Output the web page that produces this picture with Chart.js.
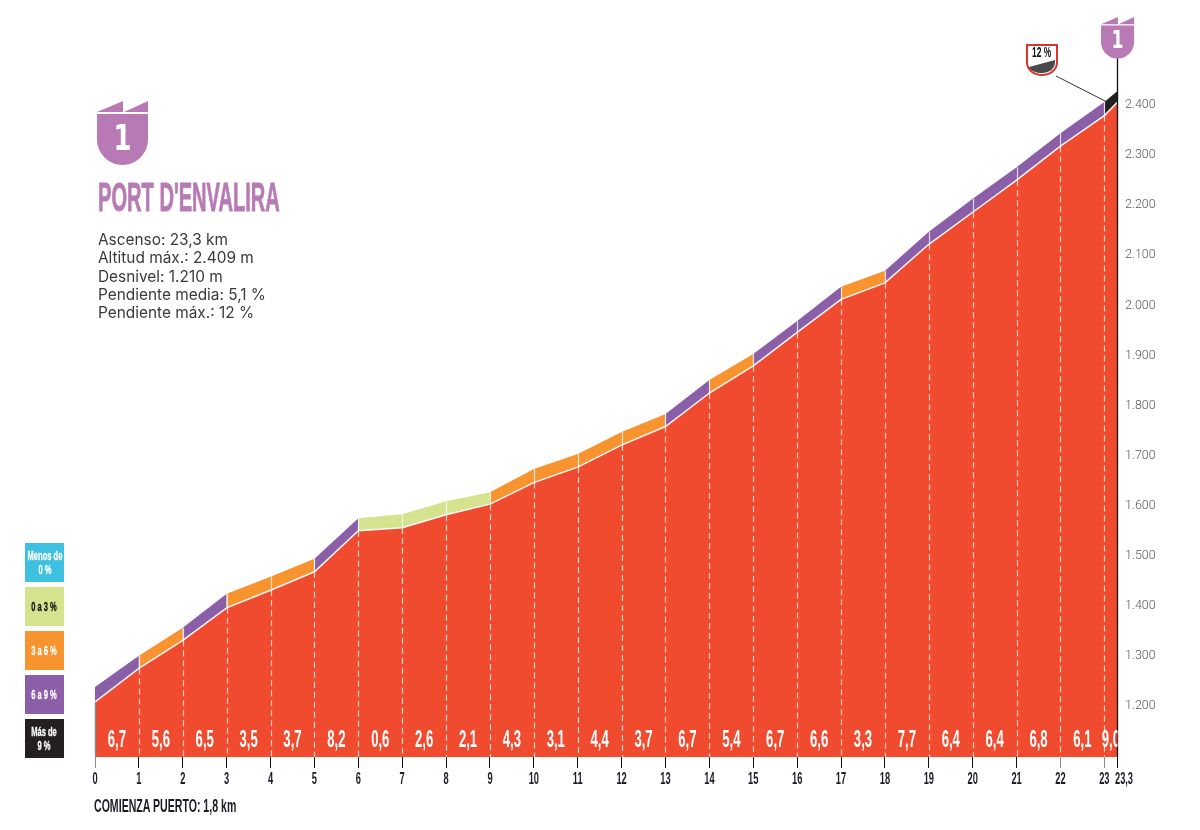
<!DOCTYPE html>
<html>
<head>
<meta charset="utf-8">
<title>Port d'Envalira</title>
<script src="https://cdn.jsdelivr.net/npm/chart.js@4"></script>
<style>
  body { margin: 0; background: #fff; }
  #wrap { position: relative; width: 1200px; height: 830px; overflow: hidden; }
  #canvas { position: absolute; left: 0; top: 0; }
  .abs { position: absolute; white-space: nowrap; }
  .cond { font-family: "Liberation Sans"; font-weight: bold; transform-origin: left top; }
  #titulo { left: 98px; top: 174px; font-size: 41px; line-height: 46px; color: #b77ab5; transform: scaleX(0.49); -webkit-text-stroke: 0.8px #b77ab5; }
  #stats { left: 98px; top: 231px; font-family: Inter; font-size: 15.4px; line-height: 18.3px; color: #3a3a3c; }
  #comienza { left: 94px; top: 795px; font-size: 19px; line-height: 22px; color: #1c1c28; transform: scaleX(0.557); }
  .caja { position: absolute; left: 25px; width: 39px; height: 39px; display: flex; align-items: center; justify-content: center; text-align: center; }
  .caja span { font-family: "Liberation Sans"; font-weight: bold; font-size: 13px; line-height: 14px; transform: scaleX(0.58); white-space: nowrap; -webkit-text-stroke: 0.3px currentColor; }
  .uno { text-align: center; font-family: "DejaVu Sans"; font-weight: bold; color: #fff; transform: scaleX(0.72); }
  svg { position: absolute; left: 0; top: 0; }
</style>
</head>
<body>
<div id="wrap">
  <canvas id="canvas" width="1200" height="830"></canvas>

  <svg width="1200" height="830">
    <defs>
      <g id="escudo">
        <path d="M0 11 L26 0 V11 Z M27 11 L51 0 V11 Z" fill="#b77ab5"/>
        <path d="M0 13 H51 V38 C51 53 39 64 25.5 64 C12 64 0 53 0 38 Z" fill="#b77ab5"/>
      </g>
    </defs>
    <use href="#escudo" x="97" y="101"/>
    <use href="#escudo" transform="translate(1101 17) scale(0.65)"/>
    <line x1="1056" y1="76" x2="1107" y2="102" stroke="#333" stroke-width="1"/>
    <path d="M1027 45 H1057 V62 C1057 70 1050 75 1042 75 C1034 75 1027 70 1027 62 Z" fill="#fff" stroke="#d9342b" stroke-width="2"/>
    <path d="M1029 67 L1055 60 V62 C1055 69 1049 73 1042 73 C1036 73 1031 71 1029 67 Z" fill="#4a4a4c"/>
  </svg>

  <div class="abs uno" style="left:97px;top:117px;width:51px;font-size:36px;line-height:42px;">1</div>
  <div class="abs uno" style="left:1101px;top:26px;width:33px;font-size:24px;line-height:28px;">1</div>
  <div class="abs cond" style="left:1032px;top:45px;font-size:14px;line-height:15px;color:#111;transform:scaleX(0.6);">12 %</div>

  <div id="titulo" class="abs cond">PORT D'ENVALIRA</div>
  <div id="stats" class="abs">
    Ascenso: 23,3 km<br>
    Altitud máx.: 2.409 m<br>
    Desnivel: 1.210 m<br>
    Pendiente media: 5,1 %<br>
    Pendiente máx.: 12 %
  </div>
  <div id="comienza" class="abs cond">COMIENZA PUERTO: 1,8 km</div>

  <div class="caja" style="top:543px;background:#3ec1e0;color:#fff;"><span>Menos de<br>0 %</span></div>
  <div class="caja" style="top:587px;background:#d5e28e;color:#111;"><span>0 a 3 %</span></div>
  <div class="caja" style="top:631px;background:#f7942f;color:#fff;"><span>3 a 6 %</span></div>
  <div class="caja" style="top:675px;background:#8a5fa8;color:#fff;"><span>6 a 9 %</span></div>
  <div class="caja" style="top:719px;background:#231f20;color:#fff;"><span>Más de<br>9 %</span></div>
</div>

<script>
// km marks along the climb
let kms = [0,1,2,3,4,5,6,7,8,9,10,11,12,13,14,15,16,17,18,19,20,21,22,23,23.3];
// road altitude at each km
let altitud = [1208,1275,1331,1396,1431,1468,1550,1556,1582,1603,1646,1677,1721,1758,1825,1879,1946,2012,2045,2122,2186,2250,2318,2379,2406];
// upper edge of the coloured band
let bandaSup = [1238,1300,1356,1424,1458,1494,1575,1583,1609,1627,1673,1703,1747,1783,1851,1903,1969,2037,2069,2147,2213,2276,2344,2406,2428];
// gradient of each km
let pendientes = [6.7,5.6,6.5,3.5,3.7,8.2,0.6,2.6,2.1,4.3,3.1,4.4,3.7,6.7,5.4,6.7,6.6,3.3,7.7,6.4,6.4,6.8,6.1,9.0];
let altitudTicks = [1200,1300,1400,1500,1600,1700,1800,1900,2000,2100,2200,2300,2400];
let ticksGrises = [0,22,23];
let topePoste = 2496;

function colorBanda(p) {
  if (p >= 9) return '#231f20';
  if (p >= 6) return '#8a5fa8';
  if (p >= 3) return '#f7942f';
  return '#d5e28e';
}

function coma(v) {
  return String(v).replace('.', ',');
}

// condensed text: the fonts we have are too wide so squeeze them
function textoEstrecho(ctx, texto, x, y, size, sx, color) {
  ctx.save();
  ctx.translate(x, y);
  ctx.scale(sx, 1);
  ctx.font = 'bold ' + size + 'px "Liberation Sans"';
  ctx.fillStyle = color;
  ctx.textAlign = 'center';
  ctx.textBaseline = 'middle';
  ctx.fillText(texto, 0, 0);
  ctx.restore();
}

let perfilPlugin = {
  id: 'perfil',
  afterDatasetsDraw(chart) {
    let ctx = chart.ctx, x = chart.scales.x, y = chart.scales.y, area = chart.chartArea;
    ctx.save();
    for (let i = 0; i < kms.length - 1; i++) {
      let px = Math.round(x.getPixelForValue(kms[i])) + 0.5;
      let py = y.getPixelForValue(altitud[i]);
      let pb = y.getPixelForValue(bandaSup[i]);
      if (i == 0) {
        ctx.strokeStyle = '#8a8a8a';
        ctx.lineWidth = 1.5;
        ctx.setLineDash([]);
        ctx.beginPath(); ctx.moveTo(px, py); ctx.lineTo(px, area.bottom); ctx.stroke();
        continue;
      }
      ctx.strokeStyle = 'rgba(255,255,255,0.75)';
      ctx.lineWidth = 1.2;
      ctx.setLineDash([]);
      ctx.beginPath(); ctx.moveTo(px, pb); ctx.lineTo(px, py); ctx.stroke();
      ctx.strokeStyle = 'rgba(255,235,225,0.85)';
      ctx.setLineDash([6, 4]);
      ctx.beginPath(); ctx.moveTo(px, py); ctx.lineTo(px, area.bottom); ctx.stroke();
    }
    ctx.restore();

    // pole at the summit
    ctx.save();
    let xFin = x.getPixelForValue(23.3);
    ctx.strokeStyle = '#111';
    ctx.lineWidth = 1.3;
    ctx.beginPath();
    ctx.moveTo(xFin, y.getPixelForValue(topePoste));
    ctx.lineTo(xFin, area.bottom);
    ctx.stroke();
    ctx.restore();

    // gradient numbers, cut by the edge of the profile like in the original
    ctx.save();
    ctx.beginPath();
    ctx.rect(area.left, area.top, area.right - area.left, area.bottom - area.top);
    ctx.clip();
    for (let i = 0; i < pendientes.length; i++) {
      let centro = (kms[i] + kms[i + 1]) / 2;
      textoEstrecho(ctx, pendientes[i].toFixed(1).replace('.', ','), x.getPixelForValue(centro), 741, 23, 0.57, '#fff');
    }
    ctx.restore();

    // km labels under the ticks
    for (let i = 0; i < kms.length; i++) {
      let px = x.getPixelForValue(kms[i]);
      if (kms[i] == 23.3) px += 6.5;
      textoEstrecho(ctx, coma(kms[i]), px, 780, 16, 0.58, '#1c1c28');
    }
  }
};

let configuracao = {
  type: 'line',
  plugins: [perfilPlugin],
  data: {
    labels: kms,
    datasets: [{
      data: kms.map((k, i) => ({ x: k, y: altitud[i] })),
      borderColor: 'rgba(255,255,255,0.95)',
      borderWidth: 1.5,
      backgroundColor: '#f04b2e',
      fill: 'start',
      pointRadius: 0,
      tension: 0
    }, {
      data: kms.map((k, i) => ({ x: k, y: bandaSup[i] })),
      borderWidth: 0,
      borderColor: 'transparent',
      backgroundColor: '#8a5fa8',
      fill: 0,
      pointRadius: 0,
      tension: 0,
      segment: {
        backgroundColor: c => colorBanda(pendientes[c.p0DataIndex])
      }
    }]
  },
  options: {
    responsive: false,
    animation: false,
    events: [],
    layout: { autoPadding: false, padding: { left: 95, top: 30 } },
    plugins: { legend: { display: false }, tooltip: { enabled: false } },
    scales: {
      x: {
        type: 'linear',
        min: 0,
        max: 23.3,
        afterBuildTicks: s => { s.ticks = kms.map(v => ({ value: v })); },
        afterFit: s => { s.height = 73; },
        ticks: { display: false },
        border: { display: false },
        grid: {
          drawOnChartArea: false,
          drawTicks: true,
          tickLength: 11,
          lineWidth: 1,
          color: c => (c.tick && ticksGrises.includes(c.tick.value)) ? '#8a8a8a' : '#111'
        }
      },
      y: {
        position: 'right',
        min: 1098,
        max: 2550,
        afterBuildTicks: s => { s.ticks = altitudTicks.map(v => ({ value: v })); },
        afterFit: s => { s.width = 82.5; },
        border: { display: false },
        grid: { display: false, drawTicks: false },
        ticks: {
          padding: 7.5,
          color: '#58595b',
          font: { family: 'Roboto', size: 12.5, weight: 300 },
          callback: v => String(v).replace(/(\d)(\d{3})$/, '$1.$2')
        }
      }
    }
  }
};

let chart = new Chart(document.getElementById('canvas'), configuracao);
</script>
</body>
</html>
